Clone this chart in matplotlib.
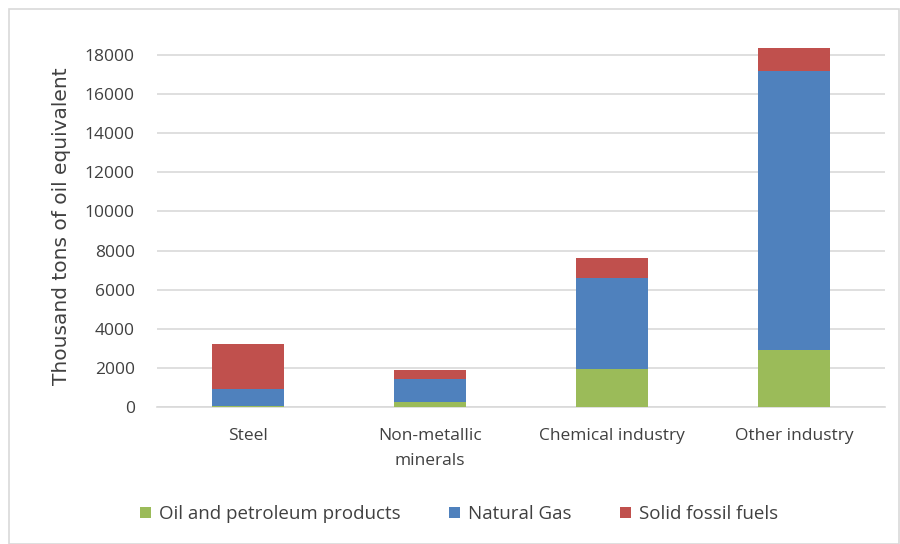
import numpy as np
import matplotlib.pyplot as plt
from matplotlib.patches import Rectangle

categories = ['Steel', 'Non-metallic\nminerals', 'Chemical industry', 'Other industry']
oil = [50, 270, 1960, 2900]
gas = [870, 1145, 4630, 14290]
solid = [2300, 475, 1010, 1150]
series_names = ['Oil and petroleum products', 'Natural Gas', 'Solid fossil fuels']
colors = ['#9BBB59', '#4F81BD', '#C0504D']

plt.rcParams['font.family'] = ['Open Sans', 'DejaVu Sans']

fig = plt.figure(figsize=(9, 5.44), dpi=100)
ax = fig.add_axes([0.1744, 0.2518, 0.8089, 0.665])

x = np.arange(len(categories))
bottom = np.zeros(len(categories))
for vals, name, c in zip([oil, gas, solid], series_names, colors):
	ax.bar(x, vals, bottom=bottom, width=0.4, color=c, label=name, zorder=3)
	bottom += np.array(vals)

ax.set_xlim(-0.5, len(categories) - 0.5)
ax.set_ylim(0, 18500)
ax.set_yticks(np.arange(0, 18001, 2000))
ax.yaxis.grid(True, color='#D9D9D9', linewidth=1.2, zorder=0)
ax.set_xticks(x)
ax.set_xticklabels(categories, fontsize=12.5, color='#404040', linespacing=1.75)
ax.tick_params(axis='both', length=0, labelsize=12.5, labelcolor='#404040')
ax.tick_params(axis='x', pad=15)
ax.tick_params(axis='y', pad=16)
for s in ['top', 'right', 'left']:
	ax.spines[s].set_visible(False)
ax.spines['bottom'].set_color('#D9D9D9')
ax.spines['bottom'].set_linewidth(1.2)
ax.set_ylabel('Thousand tons of oil equivalent', fontsize=14.5, color='#404040',
	family=['DejaVu Sans'], labelpad=10)

leg = fig.legend(loc='center', bbox_to_anchor=(0.51, 0.055), ncol=3, frameon=False,
	fontsize=13.5, handlelength=0.6, handleheight=0.6, handletextpad=0.4, columnspacing=2.6)
for t in leg.get_texts():
	t.set_color('#404040')

fig.patches.append(Rectangle((0.01, 0.0), 0.989, 0.983, transform=fig.transFigure,
	fill=False, edgecolor='#D9D9D9', linewidth=1.2))

fig.savefig('out.png', dpi=100)
